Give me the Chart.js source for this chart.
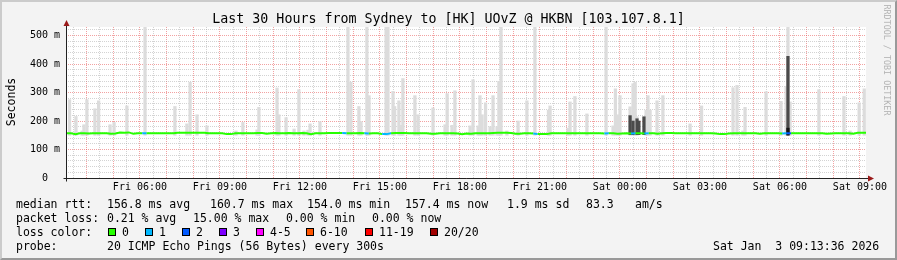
<!DOCTYPE html>
<html>
<head>
<meta charset="utf-8">
<title>SmokePing - Sydney to HK</title>
<script src="https://cdn.jsdelivr.net/npm/chart.js@4.4.1/dist/chart.umd.min.js"></script>
<style>
  html, body { margin: 0; padding: 0; background: #f3f3f3; }
  #wrap { position: relative; width: 897px; height: 260px; overflow: hidden;
          font-family: 'DejaVu Sans Mono', monospace; color: #000; }
  #chart { position: absolute; left: 0; top: 0; }
  #frame { position: absolute; left: 0; top: 0; width: 897px; height: 260px; box-sizing: border-box;
           border-top: 2px solid #cbcbcb; border-left: 2px solid #cbcbcb;
           border-bottom: 2px solid #999; border-right: 2px solid #999; pointer-events: none; }
  .t { position: absolute; white-space: pre; font-size: 11.5px; line-height: 14px; }
  .box { position: absolute; width: 6px; height: 6px; border: 1px solid #000; top: 228px; }
  #title { position: absolute; left: 0; top: 11px; width: 897px; text-align: center;
           font-size: 13.3px; line-height: 16px; white-space: pre; }
  #ylabel { position: absolute; left: -39px; top: 95px; width: 100px; height: 14px; text-align: center;
            font-size: 11.5px; line-height: 14px; transform: rotate(-90deg); }
  #credit { position: absolute; left: 831px; top: 55px; width: 112px; height: 10px; text-align: center;
            font-size: 8.4px; line-height: 10px; color: #b4b4b4; transform: rotate(90deg); white-space: pre; }
</style>
</head>
<body>
<div id="wrap">
  <canvas id="chart" width="897" height="260"></canvas>
  <div id="title">Last 30 Hours from Sydney to [HK] UOvZ @ HKBN [103.107.8.1]</div>
  <div id="ylabel">Seconds</div>
  <div id="credit">RRDTOOL / TOBI OETIKER</div>

  <div class="t" style="left:16px;top:197px">median rtt:</div>
  <div class="t" style="left:107px;top:197px">156.8 ms avg</div>
  <div class="t" style="left:210px;top:197px">160.7 ms max</div>
  <div class="t" style="left:307px;top:197px">154.0 ms min</div>
  <div class="t" style="left:405px;top:197px">157.4 ms now</div>
  <div class="t" style="left:507px;top:197px">1.9 ms sd</div>
  <div class="t" style="left:586px;top:197px">83.3</div>
  <div class="t" style="left:635px;top:197px">am/s</div>

  <div class="t" style="left:16px;top:211px">packet loss:</div>
  <div class="t" style="left:107px;top:211px">0.21 % avg</div>
  <div class="t" style="left:193px;top:211px">15.00 % max</div>
  <div class="t" style="left:286px;top:211px">0.00 % min</div>
  <div class="t" style="left:372px;top:211px">0.00 % now</div>

  <div class="t" style="left:16px;top:225px">loss color:</div>
  <div id="lossLegend"></div>

  <div class="t" style="left:16px;top:239px">probe:</div>
  <div class="t" style="left:107px;top:239px">20 ICMP Echo Pings (56 Bytes) every 300s</div>
  <div class="t" style="left:713px;top:239px">Sat Jan  3 09:13:36 2026</div>

  <div id="frame"></div>
</div>

<script>
/* ── data (x in hours since Fri 00:00) ── */
const medianStart   = 3.25;   // Fri 03:15
const medianStepMin = 10;

const medianRtt = [
  157, 157, 154, 157, 157, 156, 157, 157, 157, 157, 155, 156, 160, 159, 160, 155, 157, 157, 157, 157,
  157, 157, 157, 157, 157, 159, 159, 159, 159, 159, 159, 159, 157, 157, 157, 157, 154, 154, 157, 157,
  157, 157, 157, 158, 158, 155, 157, 158, 157, 157, 158, 157, 157, 158, 157, 154, 157, 157, 157, 158,
  158, 158, 158, 157, 157, 157, 158, 157, 156, 157, 157, 154, 154, 157, 158, 158, 158, 157, 157, 157,
  157, 157, 155, 155, 157, 157, 157, 157, 156, 154, 156, 155, 157, 157, 157, 157, 158, 159, 159, 159,
  158, 155, 155, 157, 157, 156, 154, 154, 154, 157, 157, 157, 157, 157, 157, 157, 157, 157, 157, 157,
  157, 156, 157, 157, 155, 156, 157, 156, 157, 157, 156, 157, 157, 155, 157, 158, 158, 157, 157, 157,
  157, 157, 157, 157, 157, 157, 156, 154, 154, 156, 157, 157, 157, 157, 157, 157, 155, 157, 157, 157,
  157, 156, 157, 157, 157, 157, 157, 157, 157, 157, 157, 155, 156, 157, 157, 157, 157, 155, 159, 159,
  159,
];

const medianLoss = [
  0, 0, 0, 0, 0, 0, 0, 0, 0, 0, 0, 0, 0, 0, 0, 0, 0, 1, 0, 0,
  0, 0, 0, 0, 0, 0, 0, 0, 0, 0, 0, 0, 0, 0, 0, 0, 0, 0, 0, 0,
  0, 0, 0, 0, 0, 0, 0, 0, 0, 0, 0, 0, 0, 0, 0, 0, 0, 0, 0, 0,
  0, 0, 1, 0, 0, 0, 0, 1, 0, 0, 0, 1, 1, 0, 0, 0, 0, 0, 0, 0,
  0, 0, 0, 0, 0, 0, 0, 0, 0, 0, 0, 0, 0, 0, 0, 0, 0, 0, 0, 0,
  0, 0, 0, 0, 0, 1, 0, 0, 0, 0, 0, 0, 0, 0, 0, 0, 0, 0, 0, 0,
  0, 1, 0, 0, 0, 0, 0, 1, 0, 0, 1, 0, 0, 0, 0, 0, 0, 0, 0, 0,
  0, 0, 0, 0, 0, 0, 0, 0, 0, 0, 0, 0, 0, 0, 0, 0, 0, 0, 0, 0,
  0, 1, 2, 0, 0, 0, 0, 0, 0, 0, 0, 0, 0, 0, 0, 0, 0, 0, 0, 0,
  0,
];

// smoke: max rtt of the 20 pings where it stands out from the median
const smokeLow   = 150;
const smokeHours = [
  3.36, 3.60, 3.83, 3.90, 4.01, 4.31, 4.45, 4.88, 5.03, 5.51, 6.19, 7.31, 7.76, 7.88, 8.14, 8.51,
  9.60, 9.86, 10.39, 10.46, 11.14, 11.21, 11.48, 11.78, 11.96, 12.15, 12.30, 12.38, 12.75, 13.80,
  13.91, 14.21, 14.29, 14.51, 14.59, 15.23, 15.30, 15.49, 15.55, 15.71, 15.79, 15.86, 16.31, 16.43,
  16.99, 17.44, 17.52, 17.70, 17.81, 18.38, 18.49, 18.68, 18.75, 18.83, 18.96, 19.13, 19.24, 19.39,
  19.46, 19.54, 19.76, 20.18, 20.51, 20.81, 21.32, 21.38, 22.05, 22.13, 22.31, 22.76, 23.48, 23.74,
  23.83, 23.93, 24.00, 24.38, 24.49, 24.57, 24.64, 24.98, 25.05, 25.13, 25.39, 25.61, 26.63, 27.06,
  28.24, 28.39, 28.61, 28.69, 29.48, 30.04, 30.23, 30.30, 30.38, 31.46, 32.40, 32.63, 32.97, 33.16,
];
const smokeHigh = [
  275, 216, 165, 187, 275, 243, 271, 187, 195, 253, 530, 251, 190, 336, 222, 183,
  165, 195, 169, 248, 316, 222, 212, 172, 310, 165, 168, 190, 198, 530,
  336, 251, 198, 530, 289, 530, 530, 304, 251, 271, 185, 349, 289, 222,
  246, 187, 296, 185, 306, 183, 345, 183, 289, 222, 264, 180, 289, 180,
  339, 530, 165, 200, 271, 530, 238, 253, 175, 267, 286, 225, 530, 183,
  313, 222, 289, 250, 331, 336, 215, 238, 289, 238, 271, 289, 190, 253,
  317, 325, 165, 248, 303, 269, 322, 530, 267, 310, 286, 165, 264, 313,
];

// dense smoke (many pings high) and the 20/20 core
const darkHours  = [24.38, 24.49, 24.64, 24.71, 24.90, 30.30];
const darkHigh   = [219, 200, 208, 200, 215, 427];
const blackHours = [30.30];
const blackHigh  = [175];

const lossLabels = ['0', '1', '2', '3', '4-5', '6-10', '11-19', '20/20'];
const lossColors = ['#26ff00', '#00b8ff', '#0059ff', '#7e00ff', '#ff00ff', '#ff5500', '#ff0000', '#a10000'];

const xTickHours  = [6, 9, 12, 15, 18, 21, 24, 27, 30, 33];
const xTickLabels = ['Fri 06:00', 'Fri 09:00', 'Fri 12:00', 'Fri 15:00', 'Fri 18:00',
                     'Fri 21:00', 'Sat 00:00', 'Sat 03:00', 'Sat 06:00', 'Sat 09:00'];
const yTickValues = [0, 100, 200, 300, 400, 500];
const yTickLabels = ['0  ', '100 m', '200 m', '300 m', '400 m', '500 m'];

/* ── helpers ── */
function lossBucket(n) {
  if (n <= 3) return n;
  if (n <= 5) return 4;
  if (n <= 10) return 5;
  if (n <= 19) return 6;
  return 7;
}

/* ── loss colour legend ── */
const boxLeft  = [108, 145, 182, 219, 256, 306, 365, 430];
const legend = document.getElementById('lossLegend');
lossLabels.forEach((lab, i) => {
  const b = document.createElement('div');
  b.className = 'box';
  b.style.left = boxLeft[i] + 'px';
  b.style.background = lossColors[i];
  legend.appendChild(b);
  const t = document.createElement('div');
  t.className = 't';
  t.style.left = (boxLeft[i] + 14) + 'px';
  t.style.top = '225px';
  t.textContent = lab;
  legend.appendChild(t);
});

/* ── chart ── */
Chart.defaults.font.family = "'DejaVu Sans Mono', monospace";
Chart.defaults.font.size = 10;
Chart.defaults.color = '#000';

const MGRID = 'rgba(230,70,70,0.5)';
const GRID  = 'rgba(150,150,150,0.42)';

const rrdFrame = {
  id: 'rrdFrame',
  beforeDraw(chart) {
    const { ctx, chartArea: a } = chart;
    ctx.save();
    ctx.fillStyle = '#fff';
    ctx.fillRect(a.left, a.top, a.right - a.left, a.bottom - a.top);
    ctx.restore();
  },
  afterDraw(chart) {
    const { ctx, chartArea: a } = chart;
    const x0 = Math.round(a.left) + 0.5;
    const y0 = Math.round(a.bottom) + 0.5;
    ctx.save();
    ctx.strokeStyle = '#222';
    ctx.lineWidth = 1;
    ctx.beginPath();
    ctx.moveTo(x0, y0 + 3); ctx.lineTo(x0, a.top - 2);
    ctx.moveTo(x0 - 3, y0); ctx.lineTo(a.right + 3, y0);
    ctx.stroke();
    ctx.fillStyle = '#9a1a1a';
    ctx.beginPath();
    ctx.moveTo(x0 - 3, a.top - 1); ctx.lineTo(x0 + 3, a.top - 1); ctx.lineTo(x0, a.top - 7);
    ctx.closePath(); ctx.fill();
    ctx.beginPath();
    ctx.moveTo(a.right + 2, y0 - 3); ctx.lineTo(a.right + 2, y0 + 3); ctx.lineTo(a.right + 8, y0);
    ctx.closePath(); ctx.fill();
    ctx.restore();
  },
};

const medianPts = medianRtt.map((v, i) => ({ x: medianStart + i * medianStepMin / 60, y: v }));
const smokePts  = smokeHours.map((h, i) => ({ x: h, y: [smokeLow, smokeHigh[i]] }));
const darkPts   = darkHours.map((h, i) => ({ x: h, y: [smokeLow + 2, darkHigh[i]] }));
const blackPts  = blackHours.map((h, i) => ({ x: h, y: [smokeLow, blackHigh[i]] }));

new Chart(document.getElementById('chart'), {
  data: {
    datasets: [
      {
        type: 'line',
        data: medianPts,
        borderColor: lossColors[0],
        borderWidth: 2,
        pointRadius: 0,
        tension: 0,
        segment: {
          borderColor: (c) => lossColors[lossBucket(medianLoss[c.p0DataIndex] || 0)],
        },
        order: 0,
      },
      { type: 'bar', data: blackPts, backgroundColor: '#151515', order: 1 },
      { type: 'bar', data: darkPts,  backgroundColor: '#4a4a4a', order: 2 },
      { type: 'bar', data: smokePts, backgroundColor: '#dcdcdc', order: 3 },
    ],
  },
  options: {
    responsive: false,
    animation: false,
    layout: { padding: { top: 27, right: 31, left: 0, bottom: 0 } },
    plugins: {
      legend: { display: false },
      title: { display: false },
      tooltip: { enabled: false },
    },
    datasets: { bar: { barThickness: 2.6, grouped: false, borderWidth: 0 } },
    scales: {
      x: {
        type: 'linear',
        min: 3.2267,
        max: 33.2267,
        offset: false,   // bars would otherwise pad the time axis
        afterBuildTicks: (s) => {
          // grid every 30 min, red on the hour
          const t = [];
          for (let k = 7; k <= 66; k++) t.push({ value: k / 2 });
          s.ticks = t;
        },
        afterFit: (s) => { s.height = 82; },
        grid: {
          offset: false,
          color: (c) => (c.tick && c.tick.value % 1 === 0 ? MGRID : GRID),
          lineWidth: 1,
          drawTicks: false,
        },
        border: { display: false, dash: [1, 1] },
        ticks: {
          autoSkip: false,
          maxRotation: 0,
          padding: 3,
          callback: (v) => {
            const i = xTickHours.indexOf(v);
            return i >= 0 ? xTickLabels[i] : '';
          },
        },
      },
      y: {
        type: 'linear',
        min: 0,
        max: 530,
        afterFit: (s) => { s.width = 66; },
        grid: {
          color: (c) => (c.tick && c.tick.value % 100 === 0 ? MGRID : GRID),
          lineWidth: 1,
          drawTicks: false,
        },
        border: { display: false, dash: [1, 1] },
        ticks: {
          stepSize: 20,
          includeBounds: false,
          autoSkip: false,
          padding: 6,
          callback: (v) => {
            const i = yTickValues.indexOf(v);
            return i >= 0 ? yTickLabels[i] : '';
          },
        },
      },
    },
  },
  plugins: [rrdFrame],
});
</script>
</body>
</html>
